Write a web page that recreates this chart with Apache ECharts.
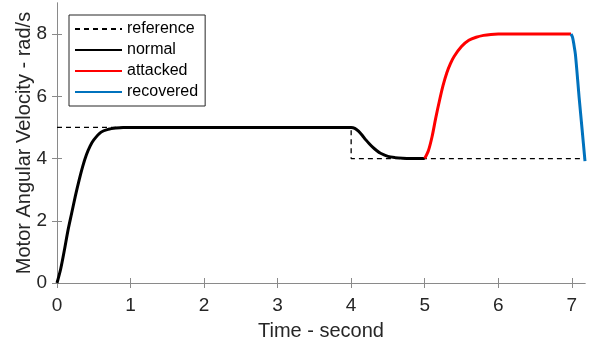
<!DOCTYPE html>
<html>
<head>
<meta charset="utf-8">
<script src="https://cdn.jsdelivr.net/npm/echarts@6/dist/echarts.min.js"></script>
<style>
html,body{margin:0;padding:0;background:#fff;}
#chart{width:595px;height:345px;}
</style>
</head>
<body>
<div id="chart"></div>
<script>
// ---- data ----
const xTicks = [0, 1, 2, 3, 4, 5, 6, 7];
const yTicks = [0, 2, 4, 6, 8];

const refTime = [0, 4, 4, 7.18];
const refVel  = [5, 5, 4, 4];

const normalTime = [0, 0.05, 0.1, 0.15, 0.2, 0.25, 0.3, 0.35, 0.4, 0.45, 0.5, 0.6, 0.7, 0.8, 0.9, 1.0,
                    4.0, 4.05, 4.1, 4.15, 4.2, 4.25, 4.3, 4.35, 4.4, 4.5, 4.6, 4.7, 4.8, 5.0];
const normalVel  = [0, 0.45, 1.05, 1.7, 2.25, 2.8, 3.3, 3.75, 4.12, 4.4, 4.6, 4.85, 4.94, 4.98, 5.0, 5.0,
                    5.0, 4.97, 4.88, 4.75, 4.6, 4.47, 4.35, 4.25, 4.17, 4.07, 4.03, 4.01, 4.0, 4.0];

const attackedTime = [5.0, 5.05, 5.1, 5.15, 5.2, 5.25, 5.3, 5.35, 5.4, 5.5, 5.6, 5.7, 5.8, 5.9, 6.0, 6.99];
const attackedVel  = [4.0, 4.25, 4.7, 5.3, 5.85, 6.35, 6.75, 7.05, 7.28, 7.6, 7.8, 7.9, 7.96, 7.99, 8.0, 8.0];

const recoveredTime = [6.99, 7.01, 7.03, 7.05, 7.1, 7.14, 7.18];
const recoveredVel  = [8.0, 7.9, 7.65, 7.34, 5.97, 4.95, 3.92];

const seriesNames = ['reference', 'normal', 'attacked', 'recovered'];

function pairs(t, v) { return t.map((x, i) => [x, v[i]]); }

const FONT = 'Liberation Sans, Arial, Helvetica, sans-serif';
const TXT = '#262626';
const AX = '#8a8a8a';

const chart = echarts.init(document.getElementById('chart'), null, {renderer: 'canvas'});

const axLine = {show: true, lineStyle: {color: AX, width: 1}};
function tick(vals) {
  return {show: true, inside: true, length: 5, customValues: vals, lineStyle: {color: AX, width: 1}};
}

chart.setOption({
  animation: false,
  backgroundColor: '#fff',
  grid: {left: 57, right: 10, top: 3, bottom: 62, containLabel: false, outerBoundsMode: 'none'},
  legend: {
    orient: 'vertical',
    left: 69, top: 15,
    data: seriesNames,
    backgroundColor: '#fff',
    borderColor: '#262626',
    borderWidth: 1,
    borderRadius: 0,
    padding: [6, 7, 6, 5],
    itemWidth: 47,
    itemHeight: 14,
    itemGap: 5,
    itemStyle: {opacity: 0},
    textStyle: {fontFamily: FONT, fontSize: 16, color: '#000'},
    selectedMode: false
  },
  xAxis: [
    {
      type: 'value', min: 0, max: 7.18, interval: 1,
      name: 'Time - second', nameLocation: 'middle', nameGap: 38, nameMoveOverlap: false,
      nameTextStyle: {fontFamily: FONT, fontSize: 20, color: TXT},
      axisLabel: {fontFamily: FONT, fontSize: 19, color: TXT, margin: 13, customValues: xTicks},
      axisTick: tick(xTicks), axisLine: axLine, splitLine: {show: false}
    },
    {
      type: 'value', min: 0, max: 7.18, interval: 1, position: 'top',
      axisLabel: {show: false},
      axisTick: tick(xTicks), axisLine: axLine, splitLine: {show: false}
    }
  ],
  yAxis: [
    {
      type: 'value', min: 0, max: 9, interval: 2,
      name: 'Motor Angular Velocity - rad/s', nameLocation: 'middle', nameGap: 23, nameMoveOverlap: false,
      nameTextStyle: {fontFamily: FONT, fontSize: 20, color: TXT},
      axisLabel: {fontFamily: FONT, fontSize: 19, color: TXT, margin: 10, customValues: yTicks},
      axisTick: tick(yTicks), axisLine: axLine, splitLine: {show: false}
    },
    {
      type: 'value', min: 0, max: 9, interval: 2, position: 'right',
      axisLabel: {show: false},
      axisTick: tick(yTicks), axisLine: axLine, splitLine: {show: false}
    }
  ],
  series: [
    {
      name: seriesNames[0], type: 'line', data: pairs(refTime, refVel),
      symbol: 'none', showSymbol: false, z: 2,
      lineStyle: {color: '#000', width: 1.3, type: [5, 4]},
      itemStyle: {color: '#000'}
    },
    {
      name: seriesNames[1], type: 'line', data: pairs(normalTime, normalVel),
      symbol: 'none', showSymbol: false, smooth: 0.3, z: 3,
      lineStyle: {color: '#000', width: 3},
      itemStyle: {color: '#000'}
    },
    {
      name: seriesNames[2], type: 'line', data: pairs(attackedTime, attackedVel),
      symbol: 'none', showSymbol: false, smooth: 0.3, z: 3,
      lineStyle: {color: '#FF0000', width: 3},
      itemStyle: {color: '#FF0000'}
    },
    {
      name: seriesNames[3], type: 'line', data: pairs(recoveredTime, recoveredVel),
      symbol: 'none', showSymbol: false, smooth: 0.3, z: 4,
      lineStyle: {color: '#0072BD', width: 3},
      itemStyle: {color: '#0072BD'}
    }
  ]
});
</script>
</body>
</html>
